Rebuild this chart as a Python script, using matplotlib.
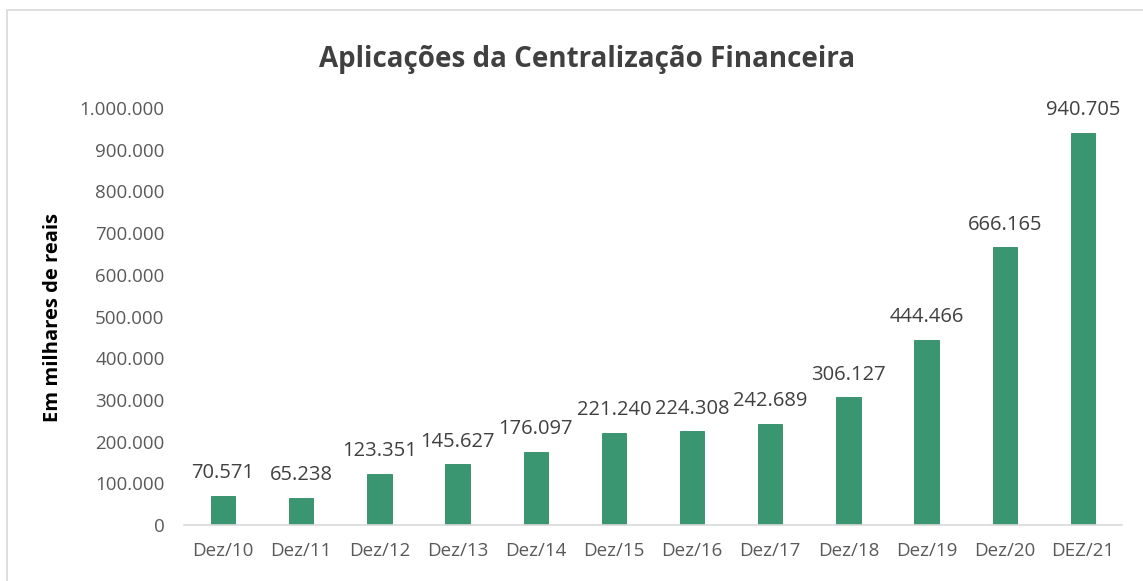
import matplotlib
matplotlib.use("Agg")
import matplotlib.pyplot as plt
from matplotlib.patches import Rectangle

categories = ["Dez/10", "Dez/11", "Dez/12", "Dez/13", "Dez/14", "Dez/15", "Dez/16",
              "Dez/17", "Dez/18", "Dez/19", "Dez/20", "DEZ/21"]
values = [70571, 65238, 123351, 145627, 176097, 221240, 224308, 242689, 306127,
          444466, 666165, 940705]
yticks = [0, 100000, 200000, 300000, 400000, 500000, 600000, 700000, 800000, 900000, 1000000]

def fmt(v):
    return f"{v:,}".replace(",", ".")

plt.rcParams['font.family'] = ['Open Sans', 'DejaVu Sans']

W, H = 1143, 581
fig = plt.figure(figsize=(W / 100, H / 100), dpi=100)
fig.patch.set_facecolor("white")

# light outer frame
fig.patches.append(Rectangle((7 / W, -0.05), 1.2, 1 - 10 / H + 0.05, transform=fig.transFigure,
                             fill=False, edgecolor="#d9d9d9", linewidth=1.2))

ax = fig.add_axes([184 / W, 1 - 525 / H, (1122 - 184) / W, (525 - 108) / H])
x = list(range(len(categories)))
ax.bar(x, values, width=0.31, color="#399671", edgecolor="#2f8a64", linewidth=0.6)

for xi, v in zip(x, values):
    ax.annotate(fmt(v), (xi, v), xytext=(0, 9), textcoords="offset points",
                ha="center", va="bottom", fontsize=14.5, color="#404040")

ax.set_xlim(-0.5, len(categories) - 0.5)
ax.set_ylim(0, 1000000)
ax.set_yticks(yticks)
ax.set_yticklabels([fmt(t) for t in yticks], fontsize=13.5, color="#595959")
ax.set_xticks(x)
ax.set_xticklabels(categories, fontsize=13.5, color="#595959")
ax.tick_params(axis="both", length=0)
ax.tick_params(axis="y", pad=14)
ax.tick_params(axis="x", pad=12)
for s in ["top", "right", "left"]:
    ax.spines[s].set_visible(False)
ax.spines["bottom"].set_color("#d9d9d9")
ax.spines["bottom"].set_linewidth(1.2)

fig.text(53 / W, 1 - 318 / H, "Em milhares de reais", rotation=90, ha="center", va="center",
         fontsize=14.5, fontweight="bold", color="#000000")
fig.text(587 / W, 1 - 60 / H, "Aplicações da Centralização Financeira", ha="center", va="center",
         fontsize=20, fontweight="bold", color="#404040")

fig.savefig("out.png", dpi=100)
